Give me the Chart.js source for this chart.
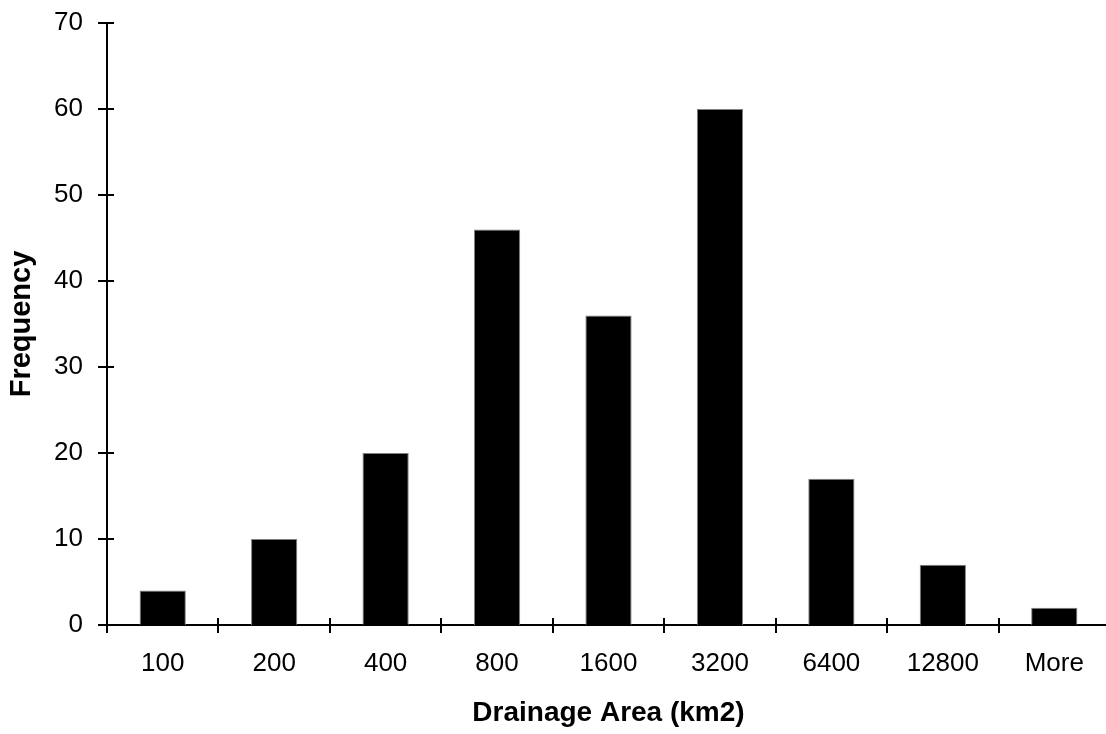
<!DOCTYPE html>
<html>
<head>
<meta charset="utf-8">
<script src="https://cdn.jsdelivr.net/npm/chart.js@4.4.1/dist/chart.umd.min.js"></script>
<style>
  html, body { margin: 0; padding: 0; background: #fff; overflow: hidden; }
  #wrap { width: 1110px; height: 734px; }
</style>
</head>
<body>
<div id="wrap"><canvas id="c" width="1110" height="734"></canvas></div>
<script>
// histogram bins and counts
const binLabels = ['100', '200', '400', '800', '1600', '3200', '6400', '12800', 'More'];
const frequency = [4, 10, 20, 46, 36, 60, 17, 7, 2];
const yTicks = [0, 10, 20, 30, 40, 50, 60, 70];

const FONT = '"Liberation Sans", Arial, sans-serif';

// Excel-style tick marks that cross the axis line
const crossTicks = {
    id: 'crossTicks',
    afterDraw(chart) {
        const ctx = chart.ctx;
        const xs = chart.scales.x, ys = chart.scales.y;
        const ax = chart.chartArea.left, ay = chart.chartArea.bottom;
        ctx.save();
        ctx.strokeStyle = '#000';
        ctx.lineWidth = 2;
        ctx.beginPath();
        ys.ticks.forEach(t => {
            const py = Math.round(ys.getPixelForValue(t.value));
            ctx.moveTo(ax - 9, py); ctx.lineTo(ax + 7, py);
        });
        for (let i = 0; i < binLabels.length; i++) {
            const px = i === 0 ? ax : Math.round((xs.getPixelForValue(i - 1) + xs.getPixelForValue(i)) / 2);
            ctx.moveTo(px, ay - (i === 0 ? 0 : 7)); ctx.lineTo(px, ay + 8);
        }
        ctx.stroke();
        ctx.restore();
    }
};

new Chart(document.getElementById('c'), {
    type: 'bar',
    data: {
        labels: binLabels,
        datasets: [{
            label: 'Frequency',
            data: frequency,
            backgroundColor: '#000',
            borderColor: '#808080',
            borderWidth: 1,
            categoryPercentage: 1,
            barPercentage: 0.415
        }]
    },
    options: {
        responsive: false,
        animation: false,
        layout: { padding: { top: 23, right: 0, left: 0, bottom: 0 } },
        plugins: { legend: { display: false }, tooltip: { enabled: false } },
        scales: {
            x: {
                grid: { display: false, drawTicks: false },
                border: { display: true, color: '#000', width: 2 },
                ticks: { color: '#000', padding: 23, font: { family: FONT, size: 26 } },
                title: {
                    display: true, text: 'Drainage Area (km2)', color: '#000',
                    font: { family: FONT, size: 28, weight: 'bold' },
                    padding: { top: 0, bottom: 4 }
                },
                afterFit(scale) {
                    scale.height = 109;
                    scale.paddingLeft = 0; scale.paddingRight = 0;
                }
            },
            y: {
                min: 0, max: 70,
                afterBuildTicks(scale) { scale.ticks = yTicks.map(v => ({ value: v })); },
                grid: { display: false, drawTicks: false },
                border: { display: true, color: '#000', width: 2 },
                ticks: { color: '#000', padding: 24, font: { family: FONT, size: 26 } },
                title: {
                    display: true, text: 'Frequency', color: '#000',
                    font: { family: FONT, size: 29, weight: 'bold' },
                    padding: { top: 5, bottom: 0 }
                },
                afterFit(scale) {
                    scale.width = 107;
                    scale.paddingTop = 0; scale.paddingBottom = 0;
                }
            }
        }
    },
    plugins: [crossTicks]
});
</script>
</body>
</html>
